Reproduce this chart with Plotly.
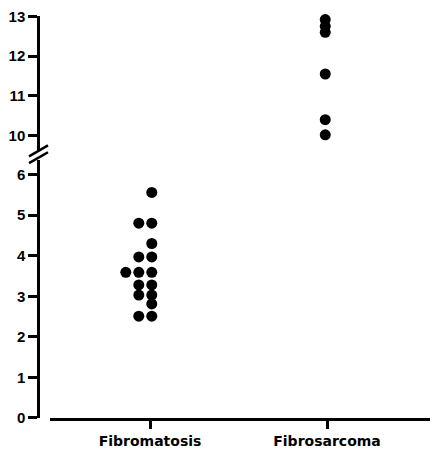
import plotly.graph_objects as go

# ---- data ----
categories = ["Fibromatosis", "Fibrosarcoma"]
cat_pos = [1, 2]

fibromatosis_values = [5.56, 4.80, 4.80, 4.30, 3.97, 3.97, 3.59, 3.59, 3.59,
                       3.28, 3.28, 3.03, 3.03, 2.81, 2.51, 2.51]
fibromatosis_cols = [0, -1, 0, 0, -1, 0, -2, -1, 0, -1, 0, -1, 0, 0, -1, 0]

fibrosarcoma_values = [12.92, 12.75, 12.60, 11.55, 10.40, 10.02]
fibrosarcoma_cols = [0, 0, 0, 0, 0, 0]

lower_ticks = [0, 1, 2, 3, 4, 5, 6]
upper_ticks = [10, 11, 12, 13]

# ---- styling ----
col_step = 0.0734
nudge = [0.01, -0.01]
marker = dict(color="black", size=11, line=dict(width=0))

fx = [cat_pos[0] + nudge[0] + c * col_step for c in fibromatosis_cols]
sx = [cat_pos[1] + nudge[1] + c * col_step for c in fibrosarcoma_cols]

fig = go.Figure()
fig.add_trace(go.Scatter(x=fx, y=fibromatosis_values, mode="markers",
                         marker=marker, xaxis="x", yaxis="y", showlegend=False,
                         cliponaxis=False))
fig.add_trace(go.Scatter(x=sx, y=fibrosarcoma_values, mode="markers",
                         marker=marker, xaxis="x", yaxis="y2", showlegend=False,
                         cliponaxis=False))

tickfont_y = dict(family="Liberation Sans", size=15, color="black")
common_y = dict(showgrid=False, zeroline=False, showline=True, linecolor="black",
                linewidth=2.5, ticks="outside", ticklen=9, tickwidth=2.5,
                tickcolor="black", tickfont=tickfont_y, anchor="free", position=0,
                ticklabeloverflow="allow")

# page body has an 8px default margin, so the figure is sized to fit inside
fig.update_layout(
    width=430, height=445,
    margin=dict(l=30, r=0, t=6, b=35),
    paper_bgcolor="white", plot_bgcolor="white",
    xaxis=dict(domain=[0.03, 1], range=[0.435, 2.627], tickvals=cat_pos,
               ticktext=[f"<b>{c}</b>" for c in categories],
               showgrid=False, zeroline=False, showline=True, linecolor="black",
               linewidth=2.5, ticks="outside", ticklen=8, tickwidth=2.5,
               tickcolor="black", anchor="y", ticklabeloverflow="allow",
               tickfont=dict(family="DejaVu Sans", size=14, color="black")),
    yaxis=dict(domain=[0, 0.641], range=[0, 6.35], tickvals=lower_ticks,
               ticktext=[f"<b>{t}</b>" for t in lower_ticks], **common_y),
    yaxis2=dict(domain=[0.663, 1], range=[9.6, 13.01], tickvals=upper_ticks,
                ticktext=[f"<b>{t}</b>" for t in upper_ticks], **common_y),
)

# axis break marks
for y0 in [0.651, 0.634]:
    fig.add_shape(type="line", xref="paper", yref="paper",
                  x0=-0.0225, x1=0.025, y0=y0, y1=y0 + 0.027,
                  line=dict(color="black", width=2.5))

fig.write_html("out.html")
